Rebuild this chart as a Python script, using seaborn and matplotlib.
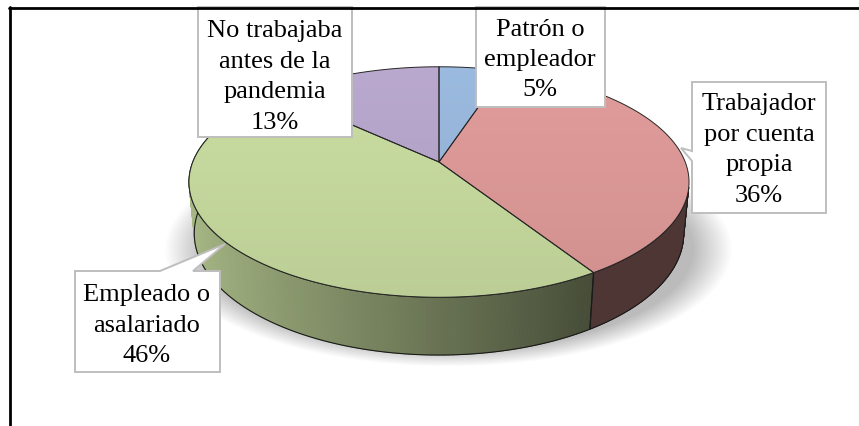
import numpy as np
import matplotlib
matplotlib.use("Agg")
import matplotlib.pyplot as plt
from matplotlib.patches import Polygon
from matplotlib.collections import PolyCollection
from matplotlib.lines import Line2D
import seaborn as sns

# ---------------- data ----------------
categories = ["Patrón o\nempleador", "Trabajador\npor cuenta\npropia",
              "Empleado o\nasalariado", "No trabajaba\nantes de la\npandemia"]
values = [5, 36, 46, 13]
pct_labels = ["5%", "36%", "46%", "13%"]
colors = ["#95B3D7", "#D99694", "#C3D69B", "#B3A2C7"]

sns.set_theme(style="white")
plt.rcParams['font.family'] = ['Liberation Serif', 'DejaVu Serif']
palette = sns.color_palette(colors)

W, H = 859, 427
fig = plt.figure(figsize=(W / 100, H / 100), dpi=100)
ax = fig.add_axes([0, 0, 1, 1])
ax.set_xlim(0, W)
ax.set_ylim(H, 0)
ax.axis("off")

# ---------------- 3D projection ----------------
cx, cy = 439, 163
f, D = 1263.0, 5.13
el = np.deg2rad(27)
hgt = 0.236


def proj(t, y):
    x = np.cos(t)
    z = np.sin(t)
    Yc = y * np.cos(el) + z * np.sin(el)
    Zc = -y * np.sin(el) + z * np.cos(el) + D
    return cx + f * x / Zc, cy - f * Yc / Zc


def apex(y):
    Yc = y * np.cos(el)
    Zc = -y * np.sin(el) + D
    return cx, cy - f * Yc / Zc


# slice angles (start at 12 o'clock, clockwise)
fr = np.array(values, dtype=float) / np.sum(values)
starts = np.pi / 2 - 2 * np.pi * np.concatenate([[0], np.cumsum(fr)[:-1]])
ends = starts - 2 * np.pi * fr

# ---------------- shadow ----------------
gx, gy = np.meshgrid(np.arange(W), np.arange(H))
r = np.sqrt(((gx - 448) / 284.0) ** 2 + ((gy - 250) / 117.0) ** 2)
alpha = np.clip((1.0 - r) / 0.14, 0, 1) * 0.5
img = np.zeros((H, W, 4))
img[..., :3] = 0.47
img[..., 3] = alpha
ax.imshow(img, extent=(0, W, H, 0), zorder=1, interpolation="bilinear")

# ---------------- walls ----------------
vis = -1.0 / (D * np.cos(el))
tvis_lo = np.pi + np.arcsin(vis) - 2 * np.pi   # about -167 deg
tvis_hi = -np.arcsin(-vis)                      # about -13 deg
for i in range(len(values)):
    a0, a1 = ends[i], starts[i]
    lo = max(a0, tvis_lo)
    hi = min(a1, tvis_hi)
    if hi <= lo:
        a0w, a1w = a0 - 2 * np.pi, a1 - 2 * np.pi
        lo = max(a0w, tvis_lo)
        hi = min(a1w, tvis_hi)
    if hi <= lo:
        continue
    ts = np.linspace(lo, hi, 160)
    base = np.array(palette[i])
    polys, fcs = [], []
    for k in range(len(ts) - 1):
        t0, t1 = ts[k], ts[k + 1]
        p = [proj(t0, 0), proj(t1, 0), proj(t1, -hgt), proj(t0, -hgt)]
        polys.append(p)
        c = np.cos(0.5 * (t0 + t1))
        fac = max(0.36, 0.86 - 0.50 * (c + 0.974) / 1.51)
        fcs.append(np.clip(base * fac, 0, 1))
    pc = PolyCollection(polys, facecolors=fcs, edgecolors=fcs, linewidths=0.6, zorder=3)
    ax.add_collection(pc)
    tx, ty = proj(ts, 0)
    bx, by = proj(ts[::-1], -hgt)
    outline = np.column_stack([np.concatenate([tx, bx]), np.concatenate([ty, by])])
    ax.add_patch(Polygon(outline, closed=True, fill=False, edgecolor="#1a1a1a",
                         linewidth=0.8, zorder=4))

# ---------------- top faces (with a soft vertical gradient) ----------------
ax0, ay0 = apex(0)
for i in range(len(values)):
    ts = np.linspace(starts[i], ends[i], 200)
    px, py = proj(ts, 0)
    pts = np.column_stack([np.concatenate([[ax0], px]), np.concatenate([[ay0], py])])
    base = np.array(palette[i])
    poly = Polygon(pts, closed=True, facecolor="none", edgecolor="none", zorder=5)
    ax.add_patch(poly)
    yy = np.linspace(0, 1, 64)[:, None]
    grad = np.zeros((64, 2, 3))
    top_c = np.clip(base * 1.03 + 0.01, 0, 1)
    bot_c = np.clip(base * 0.96, 0, 1)
    grad[:] = (top_c * (1 - yy[..., None]) + bot_c * yy[..., None])
    im = ax.imshow(grad, extent=(150, 720, 310, 55), zorder=5, interpolation="bilinear",
                   aspect="auto")
    im.set_clip_path(poly)
    ax.add_patch(Polygon(pts, closed=True, fill=False, edgecolor="#262626",
                         linewidth=0.7, zorder=6))

# ---------------- labels ----------------
box_ec = "#BEBEBE"
fs = 19


def callout(verts, zorder=8):
    ax.add_patch(Polygon(verts, closed=True, facecolor="white", edgecolor=box_ec,
                         linewidth=1.4, zorder=zorder))


# Patrón o empleador
callout([(476, 8), (605, 8), (605, 108), (476, 108)])
# No trabajaba
callout([(198, 8), (352, 8), (352, 138), (198, 138)])
# Trabajador por cuenta propia
callout([(692, 83), (826, 83), (826, 214), (692, 214), (692, 162),
         (681, 149), (692, 152)])
# Empleado o asalariado
callout([(75, 272), (160, 272), (225, 245), (193, 272), (220, 272),
         (220, 373), (75, 373)])

label_pos = [(540, 60), (759, 150), (147, 326), (275, 77)]
for i in range(len(values)):
    x, y = label_pos[i]
    ax.text(x, y, categories[i] + "\n" + pct_labels[i], ha="center", va="center",
            fontsize=fs, color="black", linespacing=1.5, zorder=9)

# ---------------- frame lines ----------------
fig.add_artist(Line2D([9 / W, 1], [1 - 8.5 / H, 1 - 8.5 / H], color="black", linewidth=2.0))
fig.add_artist(Line2D([9.5 / W, 9.5 / W], [0, 1 - 8 / H], color="black", linewidth=2.0))

fig.savefig("out.png", dpi=100, facecolor="white")
